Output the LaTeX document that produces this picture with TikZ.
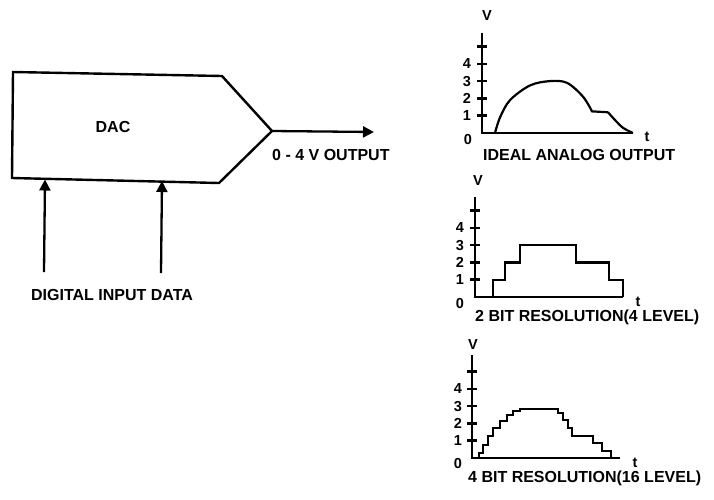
\documentclass[tikz,border=0pt]{standalone}
\usepackage{fontspec}
\setmainfont{Liberation Sans}
\usepackage{tikz}
\usetikzlibrary{arrows.meta, positioning}
\tikzset{
  lbl/.style={font=\fontsize{16}{18}\selectfont\bfseries, inner sep=0pt},
  num/.style={font=\fontsize{14.5}{16}\selectfont\bfseries, inner sep=0pt},
  box/.style={line width=2.4pt, line join=miter},
  arrow/.style={-{Triangle[length=11pt,width=11pt]}, line width=2.3pt},
  axis/.style={line width=2.6pt},
  sig/.style={line width=2.2pt, line join=miter}
}

\begin{document}
\begin{tikzpicture}[x=1pt, y=-1pt]
  \useasboundingbox (0,0) rectangle (714,499);

  % DAC block
  \coordinate (tl) at (13,72);
  \coordinate (tr) at (222,76);
  \coordinate (tip) at (272,131);
  \coordinate (br) at (219,183);
  \coordinate (bl) at (12,178);
  \draw[box] (tl) -- (tr) -- (tip) -- (br) -- (bl) -- cycle;
  \node[lbl] (dac) at (113,127) {DAC};

  % Inputs
  \coordinate (in1) at (45,179.5);
  \coordinate (in2) at (162,181);
  \coordinate (in1s) at (44,272);
  \coordinate (in2s) at (161,273);
  \draw[arrow] (in1s) -- (in1);
  \draw[arrow] (in2s) -- (in2);
  \node[lbl] (din) at (112,295) {DIGITAL INPUT DATA};

  % Output
  \coordinate (outend) at (374,132);
  \draw[arrow] (tip) -- (outend);
  \node[lbl, anchor=west] (dout) at (272,155) {0 - 4 V OUTPUT};

  % Ideal analog output
  \begin{scope}[shift={(482,133)}, y=17.3pt]
    \draw[axis] (0,5.8) -- (0,0) -- (151,0);
    \foreach \v in {1,...,5} \draw[axis] (-5,\v) -- (5,\v);
    \foreach \v in {1,...,4} \node[num] (ideal-\v) at (-15,\v) {\v};
    \node[num] (ideal-0) at (-14,-0.35) {0};
    \node[num] (ideal-V) at (5,6.8) {V};
    \node[num] (ideal-t) at (165,-0.2) {t};
    \draw[sig] plot[smooth, tension=0.55] coordinates {(13,0) (18,0.9) (28,1.9) (48,2.75) (68,3.0) (85,2.9) (101,2.1) (110,1.25)}
      -- (126,1.2) plot[smooth, tension=0.55] coordinates {(126,1.2) (133,0.75) (141,0.3) (151,0)};
    \node[lbl, anchor=west] (ideal-cap) at (1,-1.27) {IDEAL ANALOG OUTPUT};
  \end{scope}

  % 2 bit
  \begin{scope}[shift={(475,297)}, y=17.3pt]
    \draw[axis] (0,5.8) -- (0,0) -- (148,0);
    \foreach \v in {1,...,5} \draw[axis] (-5,\v) -- (5,\v);
    \foreach \v in {1,...,4} \node[num] (two-\v) at (-15,\v) {\v};
    \node[num] (two-0) at (-15,-0.35) {0};
    \node[num] (two-V) at (3,6.76) {V};
    \node[num] (two-t) at (163,-0.3) {t};
    \draw[sig] (0,0) -| (18,1) -| (30,2) -| (45,3) -| (101,2) -| (134,1) -| (148,0);
    \node[lbl, anchor=west] (two-cap) at (0,-1.16) {2 BIT RESOLUTION(4 LEVEL)};
  \end{scope}

  % 4 bit
  \begin{scope}[shift={(472,458)}, y=17.3pt]
    \draw[axis] (0,5.95) -- (0,0) -- (148,0);
    \foreach \v in {1,...,5} \draw[axis] (-5,\v) -- (5,\v);
    \foreach \v in {1,...,4} \node[num] (four-\v) at (-14,\v) {\v};
    \node[num] (four-0) at (-14,-0.3) {0};
    \node[num] (four-V) at (1,6.55) {V};
    \node[num] (four-t) at (163,-0.25) {t};
    \draw[sig] (0,0) -| (7,0.3) -| (11,0.75) -| (16,1.25) -| (21,1.75) -| (28,2.15) -| (35,2.5) -| (41,2.7) -| (48,2.85)
      -| (86,2.6) -| (91,2.2) -| (96,1.75) -| (100,1.25) -| (121,0.85) -| (130,0.4) -| (139,0);
    \node[lbl, anchor=west] (four-cap) at (-4,-1.16) {4 BIT RESOLUTION(16 LEVEL)};
  \end{scope}
\end{tikzpicture}
\end{document}
